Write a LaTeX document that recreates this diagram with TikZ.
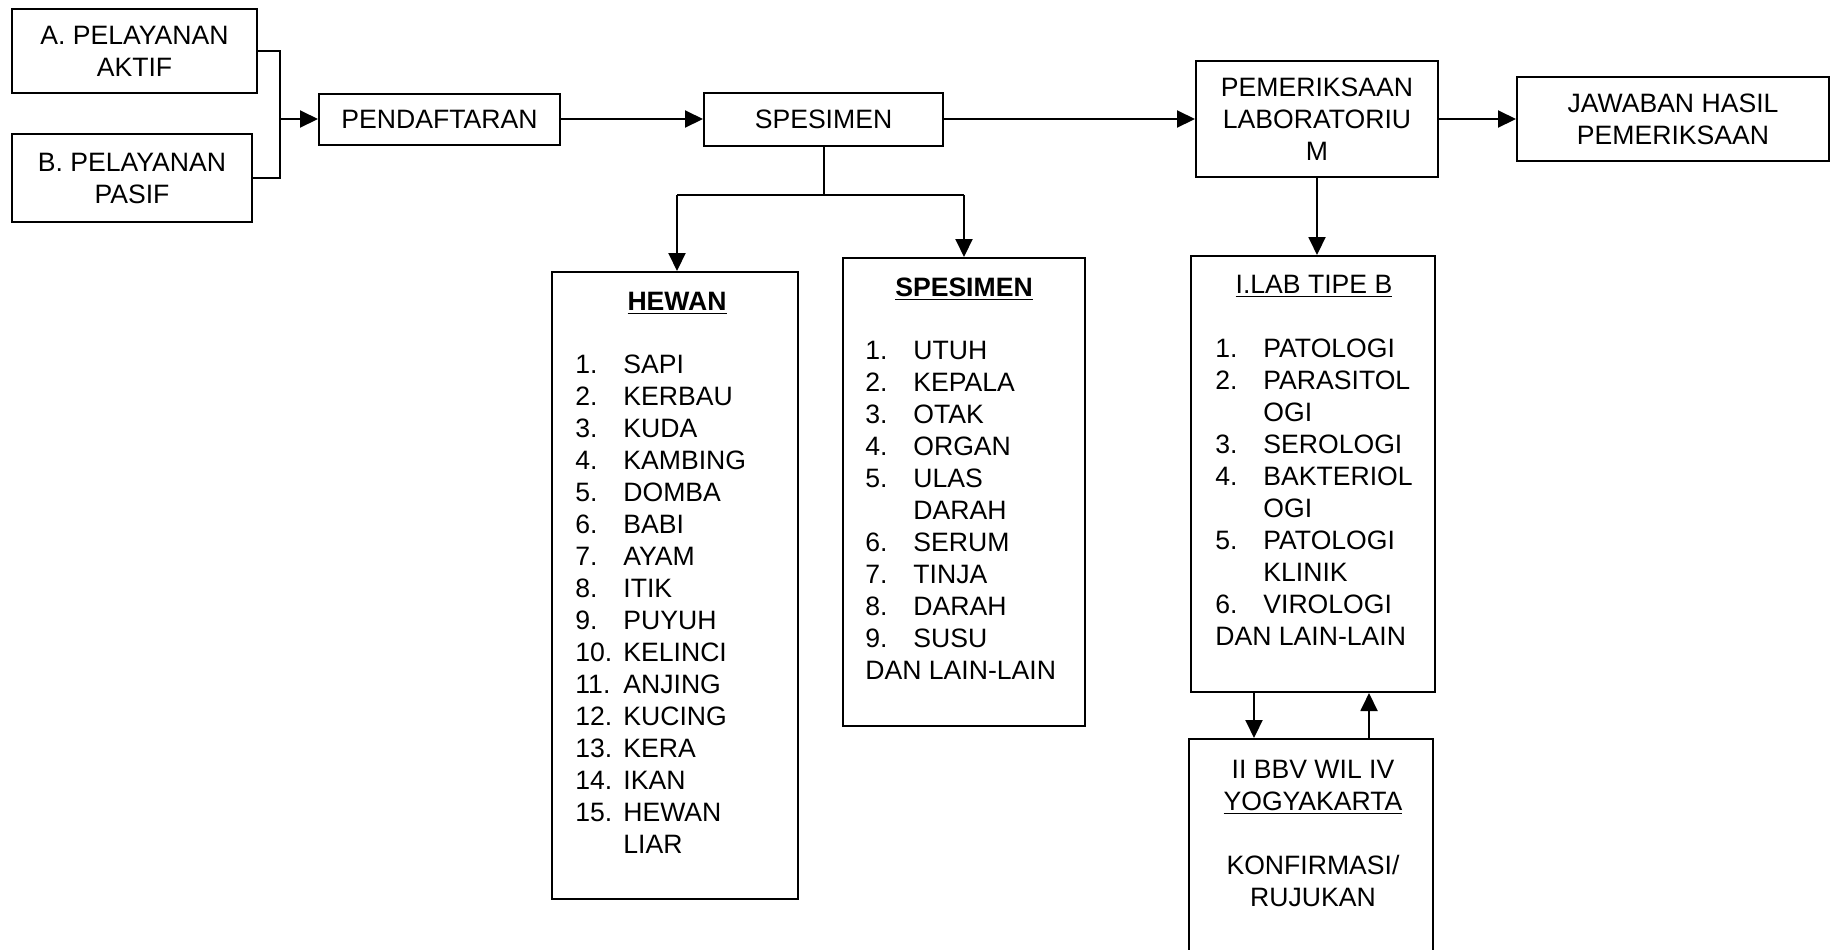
\documentclass[tikz,border=0pt]{standalone}
\usepackage{fontspec}
\setmainfont{Liberation Sans}
\usetikzlibrary{arrows.meta}
\newcommand{\itm}[2]{\makebox[24pt][l]{#1}#2}
\begin{document}
\begin{tikzpicture}[x=0.5pt,y=-0.5pt,
  every node/.style={font=\fontsize{13.3}{16}\selectfont},
  box/.style={draw,line width=1pt,inner sep=0pt,align=center},
  txt/.style={inner sep=0pt,align=left,anchor=north west},
  ctxt/.style={inner sep=0pt,align=center,anchor=north},
  arr/.style={line width=1pt,-{Triangle[length=9pt,width=8.5pt]}},
  ln/.style={line width=1pt}]
\useasboundingbox[fill=white] (0,0) rectangle (1830,949);
% top row
\node[box,minimum width=122.5pt,minimum height=42pt] (a) at (134.5,51) {A. PELAYANAN\\AKTIF};
\node[box,minimum width=120pt,minimum height=44pt] (b) at (132,178) {B. PELAYANAN\\PASIF};
\node[box,minimum width=120.5pt,minimum height=25.5pt] (pend) at (439.5,119) {PENDAFTARAN};
\node[box,minimum width=119.5pt,minimum height=26.5pt] (spes) at (823.5,119) {SPESIMEN};
\node[box,minimum width=121pt,minimum height=58pt] (pem) at (1317,119) {PEMERIKSAAN\\LABORATORIU\\M};
\node[box,minimum width=156pt,minimum height=42pt] (jaw) at (1673,119) {JAWABAN HASIL\\PEMERIKSAAN};
% lower boxes
\node[box,minimum width=123pt,minimum height=313.5pt] (hewan) at (675,585.5) {};
\node[box,minimum width=121pt,minimum height=234pt] (sp2) at (964,492) {};
\node[box,minimum width=122pt,minimum height=218pt] (lab) at (1313,474) {};
\node[box,minimum width=122pt,minimum height=111pt] (bbv) at (1311,850) {};
% texts
\node[ctxt] (hewant) at (677,291.5) {\underline{\textbf{HEWAN}}};
\node[txt] (hewanl) at (575,354.5) {\itm{1.}{SAPI}\\\itm{2.}{KERBAU}\\\itm{3.}{KUDA}\\\itm{4.}{KAMBING}\\\itm{5.}{DOMBA}\\\itm{6.}{BABI}\\\itm{7.}{AYAM}\\\itm{8.}{ITIK}\\\itm{9.}{PUYUH}\\\itm{10.}{KELINCI}\\\itm{11.}{ANJING}\\\itm{12.}{KUCING}\\\itm{13.}{KERA}\\\itm{14.}{IKAN}\\\itm{15.}{HEWAN}\\\itm{}{LIAR}};
\node[ctxt] (sp2t) at (964,277.5) {\underline{\textbf{SPESIMEN}}};
\node[txt] (sp2l) at (865,340.5) {\itm{1.}{UTUH}\\\itm{2.}{KEPALA}\\\itm{3.}{OTAK}\\\itm{4.}{ORGAN}\\\itm{5.}{ULAS}\\\itm{}{DARAH}\\\itm{6.}{SERUM}\\\itm{7.}{TINJA}\\\itm{8.}{DARAH}\\\itm{9.}{SUSU}\\DAN LAIN-LAIN};
\node[ctxt] (labt) at (1314,274.5) {\underline{I.LAB TIPE B}};
\node[txt] (labl) at (1215,338.5) {\itm{1.}{PATOLOGI}\\\itm{2.}{PARASITOL}\\\itm{}{OGI}\\\itm{3.}{SEROLOGI}\\\itm{4.}{BAKTERIOL}\\\itm{}{OGI}\\\itm{5.}{PATOLOGI}\\\itm{}{KLINIK}\\\itm{6.}{VIROLOGI}\\DAN LAIN-LAIN};
\node[ctxt] (bbvt) at (1313,759.5) {II BBV WIL IV\\\underline{YOGYAKARTA}\\[16pt]KONFIRMASI/\\RUJUKAN};
% connectors
\coordinate (join) at (280,119);
\draw[ln] (a.east) -| (join) |- (b.east);
\draw[arr] (join) -- (pend.west);
\draw[arr] (pend.east) -- (spes.west);
\draw[arr] (spes.east) -- (pem.west);
\draw[arr] (pem.east) -- (jaw.west);
\coordinate (brL) at (677,195);
\coordinate (brR) at (964,195);
\draw[ln] (spes.south) -- (spes.south |- brL);
\draw[ln] (brL) -- (brR);
\draw[arr] (brL) -- (brL |- hewan.north);
\draw[arr] (brR) -- (brR |- sp2.north);
\draw[arr] (pem.south) -- (pem.south |- lab.north);
\draw[arr] ([xshift=-29.5pt]lab.south) -- ([xshift=-29.5pt]lab.south |- bbv.north);
\draw[arr] ([xshift=28pt]lab.south |- bbv.north) -- ([xshift=28pt]lab.south);
\end{tikzpicture}
\end{document}
